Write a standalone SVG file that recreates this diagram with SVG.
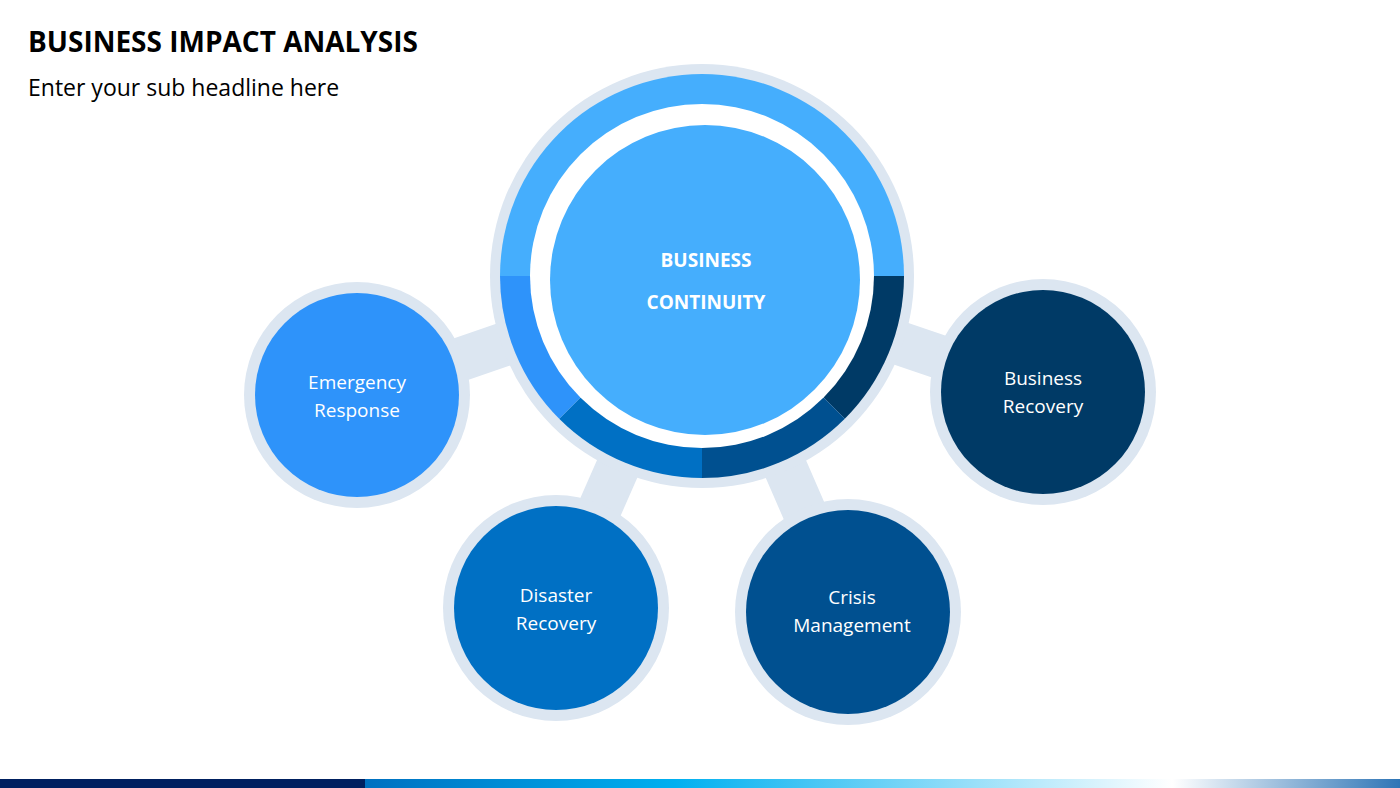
<svg xmlns="http://www.w3.org/2000/svg" width="1400" height="788" viewBox="0 0 1400 788">
<defs>
<style>
.t{font-family:"Open Sans","Liberation Sans",sans-serif;fill:#fff;font-size:19px;text-anchor:middle}
.halo{fill:#DCE6F1}
</style>
<linearGradient id="bar" x1="0" x2="1">
<stop offset="0" stop-color="#0070C0"/><stop offset="0.3" stop-color="#00B0F0"/><stop offset="0.78" stop-color="#FFFFFF"/><stop offset="1" stop-color="#2E75B6"/>
</linearGradient>
</defs>
<rect width="1400" height="788" fill="#fff"/>
<text x="28" y="52" font-family="Open Sans,Liberation Sans,sans-serif" font-weight="bold" font-size="28" fill="#000">BUSINESS IMPACT ANALYSIS</text>
<text x="28" y="96" font-family="Open Sans,Liberation Sans,sans-serif" font-size="23" fill="#000">Enter your sub headline here</text>
<g id="connectors" stroke="#DCE6F1" stroke-width="44" stroke-linecap="round">
<line x1="702" y1="276" x2="357" y2="395"/>
<line x1="702" y1="276" x2="556" y2="608"/>
<line x1="702" y1="276" x2="848" y2="612"/>
<line x1="702" y1="276" x2="1043" y2="392"/>
</g>
<g id="center">
<circle class="halo" cx="702" cy="276" r="212"/>
<path d="M500 276 A202 202 0 0 1 904 276 Z" fill="#45AEFD"/>
<path d="M702 276 L904 276 A202 202 0 0 1 844.8 418.8 Z" fill="#003A66"/>
<path d="M702 276 L844.8 418.8 A202 202 0 0 1 702 478 Z" fill="#005090"/>
<path d="M702 276 L702 478 A202 202 0 0 1 559.2 418.8 Z" fill="#0070C4"/>
<path d="M702 276 L559.2 418.8 A202 202 0 0 1 500 276 Z" fill="#2E93FA"/>
<circle cx="702" cy="276" r="172" fill="#fff"/>
<circle cx="705" cy="280" r="155" fill="#45AEFD"/>
<text class="t" x="706" y="267" font-size="28" font-weight="bold">BUSINESS</text>
<text class="t" x="706" y="309" font-size="28" font-weight="bold">CONTINUITY</text>
</g>
<g id="emergency">
<circle class="halo" cx="357" cy="395" r="113"/>
<circle cx="357" cy="395" r="102" fill="#2E93FA"/>
<text class="t" x="357" y="389">Emergency</text>
<text class="t" x="357" y="417">Response</text>
</g>
<g id="disaster">
<circle class="halo" cx="556" cy="608" r="113"/>
<circle cx="556" cy="608" r="102" fill="#0070C4"/>
<text class="t" x="556" y="602">Disaster</text>
<text class="t" x="556" y="630">Recovery</text>
</g>
<g id="crisis">
<circle class="halo" cx="848" cy="612" r="113"/>
<circle cx="848" cy="612" r="102" fill="#005090"/>
<text class="t" x="852" y="604">Crisis</text>
<text class="t" x="852" y="632">Management</text>
</g>
<g id="recovery">
<circle class="halo" cx="1043" cy="392" r="113"/>
<circle cx="1043" cy="392" r="102" fill="#003A66"/>
<text class="t" x="1043" y="385">Business</text>
<text class="t" x="1043" y="413">Recovery</text>
</g>
<rect x="0" y="779" width="365" height="9" fill="#002060"/>
<rect x="365" y="779" width="1035" height="9" fill="url(#bar)"/>
</svg>
